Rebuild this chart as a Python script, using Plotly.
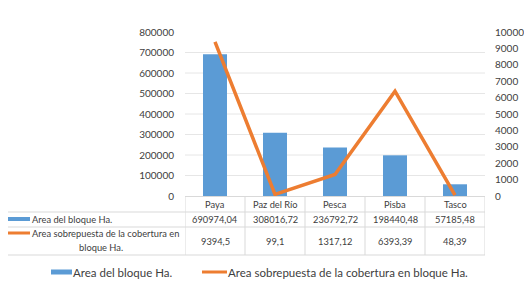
import plotly.graph_objects as go

categories = ["Paya", "Paz del Río", "Pesca", "Pisba", "Tasco"]
area_bloque = [690974.04, 308016.72, 236792.72, 198440.48, 57185.48]
area_sobrepuesta = [9394.5, 99.1, 1317.12, 6393.39, 48.39]
series_names = ["Area del bloque Ha.", "Area sobrepuesta de la cobertura en bloque Ha."]
left_ticks = [0, 100000, 200000, 300000, 400000, 500000, 600000, 700000, 800000]
right_ticks = [0, 1000, 2000, 3000, 4000, 5000, 6000, 7000, 8000, 9000, 10000]

# page body has an 8px default margin: figure is placed at (8, 8) in the window
OFF = 8
W, H = 532 - OFF, 286 - OFF
PLOT_X0, PLOT_X1, PLOT_Y0, PLOT_Y1 = 185, 485, 32, 196   # in window pixels
L = PLOT_X0 - OFF
R = W - (PLOT_X1 - OFF)
T = PLOT_Y0 - OFF
B = H - (PLOT_Y1 - OFF)
PW, PH = PLOT_X1 - PLOT_X0, PLOT_Y1 - PLOT_Y0

BLUE = "#5B9BD5"
ORANGE = "#ED7D31"
GRID = "#E6E6E6"
TXT = "#404040"
FONT = "Lato"


def py(p):
    return (PLOT_Y1 - p) / PH


def px(p):
    return (p - PLOT_X0) / PW


def fmt(v):
    return str(v).replace(".", ",")


fig = go.Figure()
fig.add_trace(go.Bar(x=list(range(len(categories))), y=area_bloque, name=series_names[0],
                     marker=dict(color=BLUE, line=dict(width=0)), width=0.4, yaxis="y"))
fig.add_trace(go.Scatter(x=list(range(len(categories))), y=area_sobrepuesta, name=series_names[1],
                         mode="lines", line=dict(color=ORANGE, width=3.5), yaxis="y2"))

shapes = []
for v in left_ticks[1:-1]:
    shapes.append(dict(type="line", xref="paper", yref="y", x0=0, x1=1, y0=v, y1=v,
                       line=dict(color=GRID, width=1), layer="below"))

TL = "#D9D9D9"
n = len(categories)
for yy in [212, 227, 255]:
    shapes.append(dict(type="line", xref="paper", yref="paper", x0=px(4), x1=1, y0=py(yy), y1=py(yy),
                       line=dict(color=TL, width=1)))
shapes.append(dict(type="line", xref="paper", yref="paper", x0=0, x1=1, y0=py(196.5), y1=py(196.5),
                   line=dict(color=TL, width=1)))
shapes.append(dict(type="line", xref="paper", yref="paper", x0=px(4), x1=px(4), y0=py(212), y1=py(255),
                   line=dict(color=TL, width=1)))
for i in range(n + 1):
    shapes.append(dict(type="line", xref="x", yref="paper", x0=i - 0.5, x1=i - 0.5, y0=py(196.5), y1=py(255),
                       line=dict(color=TL, width=1)))

shapes.append(dict(type="rect", xref="paper", yref="paper", x0=px(8), x1=px(30), y0=py(221), y1=py(217),
                   fillcolor=BLUE, line=dict(width=0)))
shapes.append(dict(type="line", xref="paper", yref="paper", x0=px(6), x1=px(30), y0=py(233), y1=py(233),
                   line=dict(color=ORANGE, width=3)))
shapes.append(dict(type="rect", xref="paper", yref="paper", x0=px(51), x1=px(72), y0=py(274.5), y1=py(269.5),
                   fillcolor=BLUE, line=dict(width=0)))
shapes.append(dict(type="line", xref="paper", yref="paper", x0=px(202), x1=px(227), y0=py(272), y1=py(272),
                   line=dict(color=ORANGE, width=3)))

ann = []
TF = dict(family=FONT, size=9.3, color=TXT)
for i, c in enumerate(categories):
    ann.append(dict(x=i, y=py(204.5), xref="x", yref="paper", text=c, showarrow=False, font=TF,
                    xanchor="center", yanchor="middle"))
    ann.append(dict(x=i, y=py(219.5), xref="x", yref="paper", text=fmt(area_bloque[i]), showarrow=False, font=TF,
                    xanchor="center", yanchor="middle"))
    ann.append(dict(x=i, y=py(241), xref="x", yref="paper", text=fmt(area_sobrepuesta[i]), showarrow=False, font=TF,
                    xanchor="center", yanchor="middle"))
ann.append(dict(x=px(31), y=py(219.5), xref="paper", yref="paper", text=series_names[0], showarrow=False, font=TF,
                xanchor="left", yanchor="middle", borderpad=0))
words = series_names[1].split(" ")
ann.append(dict(x=px(31), y=py(233), xref="paper", yref="paper", text=" ".join(words[:-2]), showarrow=False, font=TF,
                xanchor="left", yanchor="middle", borderpad=0))
ann.append(dict(x=px(78), y=py(247), xref="paper", yref="paper", text=" ".join(words[-2:]), showarrow=False, font=TF,
                xanchor="left", yanchor="middle", borderpad=0))
LF = dict(family=FONT, size=11.5, color=TXT)
ann.append(dict(x=px(72), y=py(272), xref="paper", yref="paper", text=series_names[0], showarrow=False, font=LF,
                xanchor="left", yanchor="middle", borderpad=0))
ann.append(dict(x=px(227), y=py(272), xref="paper", yref="paper", text=series_names[1], showarrow=False, font=LF,
                xanchor="left", yanchor="middle", borderpad=0))

fig.update_layout(
    width=W, height=H,
    margin=dict(l=L, r=R, t=T, b=B, pad=0, autoexpand=False),
    paper_bgcolor="white", plot_bgcolor="white",
    showlegend=False,
    font=dict(family=FONT, size=10, color=TXT),
    xaxis=dict(range=[-0.5, n - 0.5], showticklabels=False, showgrid=False, zeroline=False,
               showline=False, ticks="", automargin=False),
    yaxis=dict(range=[0, 800000], tickvals=left_ticks, ticktext=[str(v) for v in left_ticks],
               showgrid=False, zeroline=False, showline=False, ticks="", ticklabelstandoff=10,
               automargin=False, tickfont=dict(family=FONT, size=10, color=TXT)),
    yaxis2=dict(range=[0, 10000], tickvals=right_ticks, ticktext=[str(v) for v in right_ticks],
                overlaying="y", side="right", showgrid=False, zeroline=False, showline=False, ticks="",
                ticklabelstandoff=9, automargin=False, tickfont=dict(family=FONT, size=10, color=TXT)),
    shapes=shapes,
    annotations=ann,
)

fig.write_html("out.html")
